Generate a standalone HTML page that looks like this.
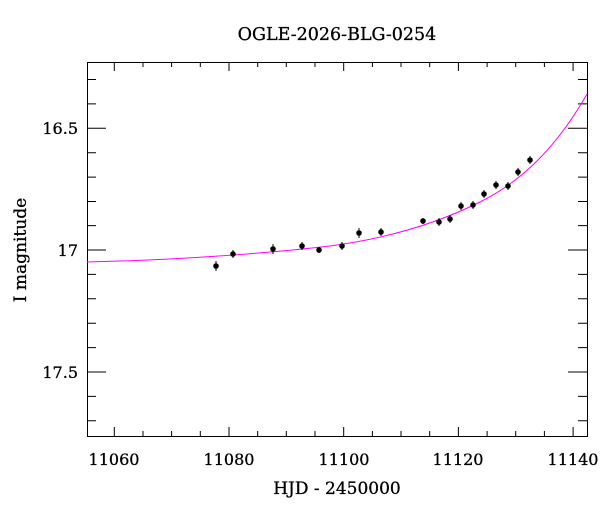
<!DOCTYPE html>
<html><head><style>body{margin:0;background:#fff}</style></head><body>
<svg width="600" height="512" xmlns="http://www.w3.org/2000/svg" font-family="DejaVu Serif, serif">
<rect width="600" height="512" fill="#fff"/>
<text x="337" y="40" text-anchor="middle" font-size="17.5" stroke="#000" stroke-width="0.3">OGLE-2026-BLG-0254</text>
<g stroke="#000" stroke-width="1">
<rect x="87.5" y="62.5" width="500" height="374" fill="none"/>
<path d="M114.3 436v-9M229 436v-9M343.7 436v-9M458.4 436v-9M573.1 436v-9M114.3 62v9M229 62v9M343.7 62v9M458.4 62v9M573.1 62v9
M143 436v-5M171.6 436v-5M200.3 436v-5M257.7 436v-5M286.3 436v-5M315 436v-5M372.4 436v-5M401 436v-5M429.7 436v-5M487.1 436v-5M515.7 436v-5M544.4 436v-5
M143 62v5M171.6 62v5M200.3 62v5M257.7 62v5M286.3 62v5M315 62v5M372.4 62v5M401 62v5M429.7 62v5M487.1 62v5M515.7 62v5M544.4 62v5
M87 128.3h19M87 250h19M87 372h19M587 128.3h-19M587 250h-19M587 372h-19
M87 79.5h9M87 103.9h9M87 152.7h9M87 177.1h9M87 201.5h9M87 225.6h9M87 274.4h9M87 298.8h9M87 323.2h9M87 347.6h9M87 396.4h9M87 420.8h9
M587 79.5h-9M587 103.9h-9M587 152.7h-9M587 177.1h-9M587 201.5h-9M587 225.6h-9M587 274.4h-9M587 298.8h-9M587 323.2h-9M587 347.6h-9M587 396.4h-9M587 420.8h-9"/>
</g>
<g font-size="16" text-anchor="middle" stroke="#000" stroke-width="0.3">
<text x="114" y="465">11060</text><text x="229" y="465">11080</text><text x="344" y="465">11100</text><text x="458" y="465">11120</text><text x="573" y="465">11140</text>
</g>
<g font-size="16" text-anchor="end" stroke="#000" stroke-width="0.3">
<text x="78" y="134">16.5</text><text x="78" y="256">17</text><text x="78" y="378">17.5</text>
</g>
<text x="337" y="494" text-anchor="middle" font-size="17" stroke="#000" stroke-width="0.3">HJD - 2450000</text>
<text transform="translate(26,250) rotate(-90)" text-anchor="middle" font-size="17" stroke="#000" stroke-width="0.3">I magnitude</text>
<path d="M87 262 C180 260 270 253 330 246 C390 238 440 222 480 202 C520 182 555 150 587 94" fill="none" stroke="#f0f" stroke-width="1"/>
<g fill="#000" stroke="#000" stroke-width="1">
<path d="M216 261v10M233 250v8M273 244v10M302 242v8M319 247v6M342 242v8M359 228v10M381 228v8M423 218v6M439 218v8M450 215v8M461 202v8M473 201v8M484 190v8M496 181v8M508 182v8M518 168v8M530 156v8"/>
<circle cx="216" cy="266" r="2.3"/><circle cx="233" cy="254" r="2.3"/><circle cx="273" cy="249" r="2.3"/><circle cx="302" cy="246" r="2.3"/><circle cx="319" cy="250" r="2.3"/><circle cx="342" cy="246" r="2.3"/><circle cx="359" cy="233" r="2.3"/><circle cx="381" cy="232" r="2.3"/><circle cx="423" cy="221" r="2.3"/><circle cx="439" cy="222" r="2.3"/><circle cx="450" cy="219" r="2.3"/><circle cx="461" cy="206" r="2.3"/><circle cx="473" cy="205" r="2.3"/><circle cx="484" cy="194" r="2.3"/><circle cx="496" cy="185" r="2.3"/><circle cx="508" cy="186" r="2.3"/><circle cx="518" cy="172" r="2.3"/><circle cx="530" cy="160" r="2.3"/>
</g>
</svg>
</body></html>
